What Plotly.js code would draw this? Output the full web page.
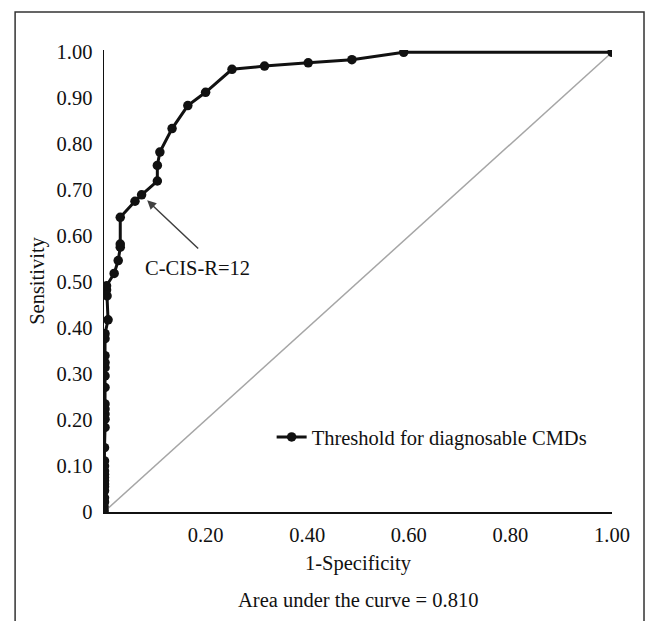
<!DOCTYPE html>
<html>
<head>
<meta charset="utf-8">
<script src="https://cdn.plot.ly/plotly-3.0.1.min.js"></script>
<style>html,body{margin:0;padding:0;background:#fff;}#chart{width:649px;height:621px;}</style>
</head>
<body>
<div id="chart"></div>
<script>
// 1-Specificity (false positive rate)
const rocX = [0, 0, 0, 0.001, 0.001, 0.001, 0.001, 0.001, 0.001, 0.001, 0.001, 0.001, 0.001, 0.001, 0.001,
  0.002, 0.002, 0.002, 0.002, 0.002, 0.002, 0.002, 0.002, 0.002, 0.002, 0.002, 0.002,
  0.008, 0.006, 0.005, 0.005, 0.02, 0.028, 0.032, 0.032, 0.032, 0.061, 0.074, 0.105, 0.105, 0.11,
  0.134, 0.165, 0.20, 0.252, 0.316, 0.402, 0.488, 0.59, 1.0];
// Sensitivity
const rocY = [0, 0.005, 0.012, 0.022, 0.031, 0.046, 0.055, 0.061, 0.068, 0.075, 0.082, 0.089, 0.1, 0.111, 0.14,
  0.184, 0.202, 0.213, 0.224, 0.235, 0.271, 0.296, 0.314, 0.325, 0.34, 0.377, 0.388,
  0.418, 0.47, 0.483, 0.492, 0.519, 0.547, 0.576, 0.583, 0.641, 0.676, 0.69, 0.72, 0.754, 0.783,
  0.834, 0.884, 0.913, 0.963, 0.97, 0.977, 0.984, 1.0, 1.0];
const diagX = [0, 1];
const diagY = [0, 1];
const xTickVals = [0.2, 0.4, 0.6, 0.8, 1.0];
const xTickText = ["0.20", "0.40", "0.60", "0.80", "1.00"];
const yTickVals = [0, 0.1, 0.2, 0.3, 0.4, 0.5, 0.6, 0.7, 0.8, 0.9, 1.0];
const yTickText = ["0", "0.10", "0.20", "0.30", "0.40", "0.50", "0.60", "0.70", "0.80", "0.90", "1.00"];
const seriesName = "Threshold for diagnosable CMDs";
const cutoffLabel = "C-CIS-R=12";
const cutoffPoint = {x: 0.085, y: 0.678};
const aucText = "Area under the curve = 0.810";

const font = "'Liberation Serif', 'Times New Roman', serif";
const fs = 20.5;

const traces = [
  {x: diagX, y: diagY, mode: 'lines', line: {color: '#a6a6a6', width: 1.5}, showlegend: false, hoverinfo: 'skip'},
  {x: rocX, y: rocY, mode: 'lines+markers', name: seriesName,
   line: {color: '#111', width: 3}, marker: {color: '#111', size: 9.5}}
];

const layout = {
  width: 649, height: 621,
  margin: {l: 104, r: 37, t: 50, b: 109},
  paper_bgcolor: '#fff', plot_bgcolor: '#fff',
  font: {family: font, size: fs, color: '#111'},
  xaxis: {range: [0, 1], showline: true, linecolor: '#111', linewidth: 1.5, showgrid: false, zeroline: false,
    tickvals: xTickVals, ticktext: xTickText, ticks: '', ticklabelstandoff: 4,
    title: {text: '1-Specificity', font: {family: font, size: fs}, standoff: 10}},
  yaxis: {range: [0, 1.005], showline: true, linecolor: '#111', linewidth: 1.5, showgrid: false, zeroline: false,
    tickvals: yTickVals, ticktext: yTickText, ticks: '', ticklabelstandoff: 6,
    title: {text: 'Sensitivity', font: {family: font, size: fs}, standoff: 6}},
  showlegend: true,
  legend: {x: 0.33, y: 0.162, xanchor: 'left', yanchor: 'middle', bgcolor: 'rgba(0,0,0,0)',
    font: {family: font, size: fs, color: '#111'}},
  annotations: [
    {x: cutoffPoint.x, y: cutoffPoint.y, xref: 'x', yref: 'y', text: ' ', showarrow: true,
     ax: 55, ay: 52, arrowcolor: '#404040', arrowwidth: 1.5, arrowhead: 2, arrowsize: 1.2, standoff: 0},
    {x: 0.185, y: 0.53, xref: 'x', yref: 'y', text: cutoffLabel, showarrow: false,
     font: {family: font, size: fs, color: '#111'}},
    {x: 0.5, y: -0.19, xref: 'paper', yref: 'paper', text: aucText, showarrow: false,
     xanchor: 'center', yanchor: 'middle', font: {family: font, size: fs, color: '#111'}}
  ],
  shapes: [
    {type: 'path', xref: 'paper', yref: 'paper',
     path: 'M -0.175 -0.4 L -0.175 1.082 L 1.063 1.082 L 1.063 -0.4',
     line: {color: '#333', width: 1.5}}
  ]
};

Plotly.newPlot('chart', traces, layout, {displayModeBar: false, staticPlot: true});
</script>
</body>
</html>
